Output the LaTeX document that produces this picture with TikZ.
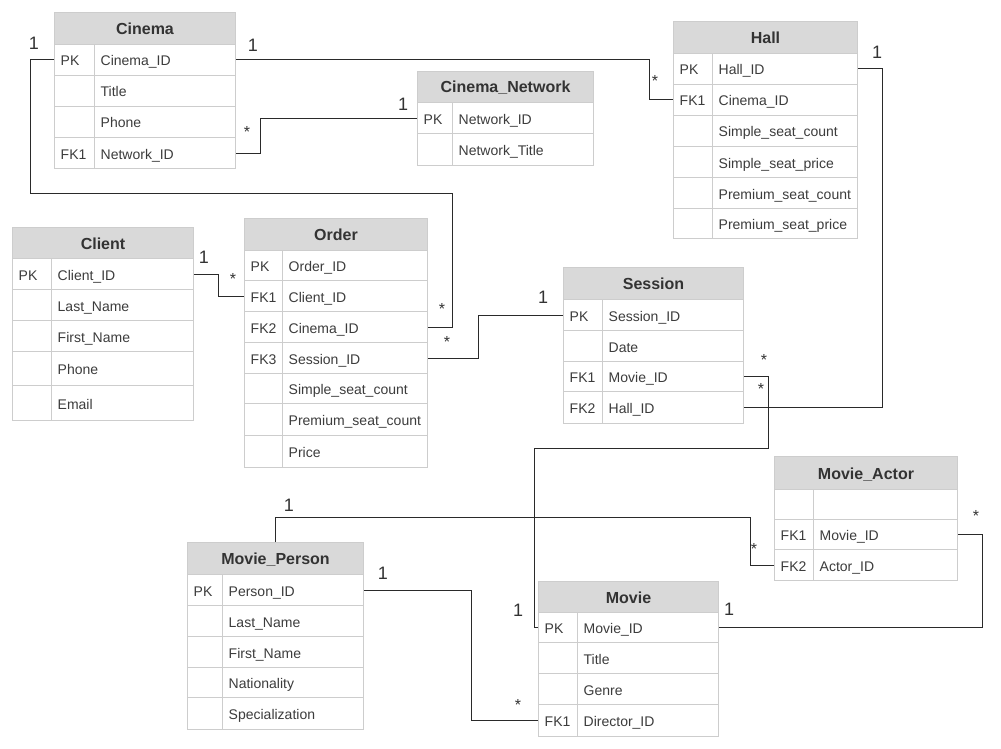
\documentclass[tikz,border=0pt]{standalone}
\usepackage{fontspec}
\setmainfont{Liberation Sans}
\definecolor{hdrfill}{HTML}{D9D9D9}
\definecolor{cellline}{HTML}{CDCDCD}
\definecolor{txt}{HTML}{333333}
\definecolor{rowtxt}{HTML}{3C3C3C}
\definecolor{linec}{HTML}{2A2A2A}
\tikzset{
  hdrcell/.style={draw=cellline, fill=hdrfill, line width=1pt, inner sep=0pt},
  hdrtext/.style={inner sep=0pt, font=\fontsize{16}{18}\selectfont\bfseries, text=txt},
  cell/.style={draw=cellline, fill=white, line width=1pt, inner sep=0pt},
  celltext/.style={inner sep=0pt, font=\fontsize{14}{16}\selectfont, text=rowtxt},
  conn/.style={draw=linec, line width=1pt},
  lblone/.style={inner sep=0pt, anchor=base, font=\fontsize{18}{20}\selectfont, text=txt},
  lblstar/.style={inner sep=0pt, anchor=base, font=\fontsize{16}{18}\selectfont, text=txt}
}
% #1 name, #2 left, #3 top, #4 right, #5 divider x, #6 header height, #7 title, #8 rows key/field/height
\newcommand\ertable[8]{%
  \pgfmathsetmacro\erW{#4-#2}%
  \pgfmathsetmacro\erKW{#5-#2}%
  \pgfmathsetmacro\erFW{#4-#5}%
  \node[hdrcell, minimum width=\erW pt, minimum height=#6 pt, anchor=north west] (#1) at (#2,#3) {};
  \node[hdrtext, anchor=base] (#1-t) at ([yshift=-6pt]#1.center) {#7};
  \pgfmathsetmacro\erStart{#3+#6}%
  \xdef\erCur{\erStart}%
  \foreach [count=\i] \k/\f/\h in {#8} {
    \node[cell, minimum width=\erKW pt, minimum height=\h pt, anchor=north west] (#1-k\i) at (#2,\erCur) {};
    \node[cell, minimum width=\erFW pt, minimum height=\h pt, anchor=north west] (#1-f\i) at (#5,\erCur) {};
    \node[celltext, anchor=base west] (#1-kt\i) at ([xshift=6.5pt,yshift=-6pt]#1-k\i.west) {\k};
    \node[celltext, anchor=base west] (#1-ft\i) at ([xshift=6.5pt,yshift=-6pt]#1-f\i.west) {\f};
    \pgfmathsetmacro\erNext{\erCur+\h}%
    \xdef\erCur{\erNext}%
  }
}
\begin{document}
\begin{tikzpicture}[x=1pt,y=-1pt]
\useasboundingbox (0,0) rectangle (1001,749);
\fill[white] (0,0) rectangle (1001,749);

% tables
\ertable{cinema}{54}{12}{235}{94}{32}{Cinema}{PK/Cinema\_ID/31, /Title/31, /Phone/31, FK1/Network\_ID/31}
\ertable{net}{417}{71}{593}{452}{31}{Cinema\_Network}{PK/Network\_ID/31.5, /Network\_Title/31.5}
\ertable{hall}{673}{21}{857}{712}{32}{Hall}{PK/Hall\_ID/31, FK1/Cinema\_ID/31, /Simple\_seat\_count/31, /Simple\_seat\_price/31, /Premium\_seat\_count/31, /Premium\_seat\_price/30}
\ertable{client}{12}{227}{193}{51}{31}{Client}{PK/Client\_ID/31, /Last\_Name/31, /First\_Name/31, /Phone/34, /Email/35}
\ertable{order}{244}{218}{427}{282}{32}{Order}{PK/Order\_ID/30, FK1/Client\_ID/31, FK2/Cinema\_ID/31, FK3/Session\_ID/31, /Simple\_seat\_count/30, /Premium\_seat\_count/32, /Price/32}
\ertable{session}{563}{267}{743}{602}{32}{Session}{PK/Session\_ID/31, /Date/31, FK1/Movie\_ID/30, FK2/Hall\_ID/32}
\ertable{actor}{774}{456}{957}{813}{33}{Movie\_Actor}{{}/{}/30, FK1/Movie\_ID/30, FK2/Actor\_ID/31}
\ertable{person}{187}{542}{363}{222}{32}{Movie\_Person}{PK/Person\_ID/31, /Last\_Name/31, /First\_Name/31, /Nationality/30, /Specialization/32}
\ertable{movie}{538}{581}{718}{577}{31}{Movie}{PK/Movie\_ID/30, /Title/31, /Genre/31, FK1/Director\_ID/32}

% connectors
\draw[conn] (cinema-f1.east) -- (649,0 |- cinema-f1.east) |- (hall-k2.west);
\draw[conn] (cinema-f4.east) -- (260,0 |- cinema-f4.east) |- (net-k1.west);
\draw[conn] (cinema-k1.west) -- (30,0 |- cinema-k1.west) -- (30,193) -- (452,193) |- (order-f3.east);
\draw[conn] (client-f1.east) -- (218,0 |- client-f1.east) |- (order-k2.west);
\draw[conn] (order-f4.east) -- (478,0 |- order-f4.east) |- (session-k1.west);
\draw[conn] (hall-f1.east) -- (882,0 |- hall-f1.east) |- (session-f4.east);
\draw[conn] (session-f3.east) -- (768,0 |- session-f3.east) -- (768,448) -- (534,448) |- (movie-k1.west);
\draw[conn] (person.north) -- (person.north |- 0,517) -- (750,517) |- (actor-k3.west);
\draw[conn] (person-f1.east) -- (471,0 |- person-f1.east) |- (movie-k4.west);
\draw[conn] (movie-f1.east) -- (982,0 |- movie-f1.east) |- (actor-f2.east);

% multiplicity labels
\node[lblone] (lab1) at (34,49.4) {1};
\node[lblone] (lab2) at (253,51.4) {1};
\node[lblone] (lab3) at (403,110.4) {1};
\node[lblone] (lab4) at (877,58.4) {1};
\node[lblone] (lab5) at (204,263.4) {1};
\node[lblone] (lab6) at (543,303.4) {1};
\node[lblone] (lab7) at (289,511.4) {1};
\node[lblone] (lab8) at (383,579.4) {1};
\node[lblone] (lab9) at (518,616.4) {1};
\node[lblone] (lab10) at (729,615.4) {1};
\node[lblstar] (st1) at (247,138) {*};
\node[lblstar] (st2) at (655,87) {*};
\node[lblstar] (st3) at (233,284) {*};
\node[lblstar] (st4) at (442,314) {*};
\node[lblstar] (st5) at (447,347) {*};
\node[lblstar] (st6) at (764,365) {*};
\node[lblstar] (st7) at (761,394) {*};
\node[lblstar] (st8) at (518,710) {*};
\node[lblstar] (st9) at (754,554) {*};
\node[lblstar] (st10) at (976,521) {*};
\end{tikzpicture}
\end{document}
